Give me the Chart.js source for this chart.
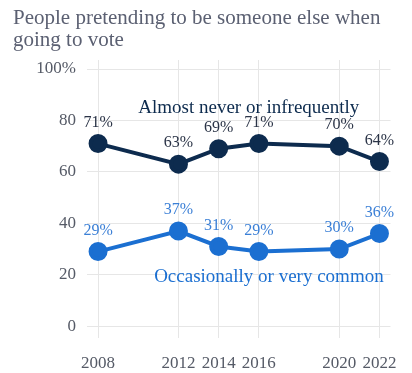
<!DOCTYPE html>
<html>
<head>
<meta charset="utf-8">
<script src="https://cdn.jsdelivr.net/npm/chart.js@4"></script>
<style>
  html, body { margin: 0; padding: 0; background: #fff; }
  #wrap { width: 412px; height: 373px; position: relative; }
</style>
</head>
<body>
<div id="wrap"><canvas id="voteChart"></canvas></div>
<script>
// Données du graphique
const years = [2008, 2012, 2014, 2016, 2020, 2022];
const rarely = [71, 63, 69, 71, 70, 64];
const often = [29, 37, 31, 29, 30, 36];
const yTicks = [0, 20, 40, 60, 80, 100];

const titleLines = ["People pretending to be someone else when", "going to vote"];
const rarelyLabel = "Almost never or infrequently";
const oftenLabel = "Occasionally or very common";

const FONT = "'Liberation Serif', 'DejaVu Serif', serif";
const NAVY = "#0d2b4e";
const BLUE = "#1b6fd1";

// Plugin maison : titre, étiquettes des points et noms des séries
const labelsPlugin = {
  id: "labelsPlugin",
  afterDatasetsDraw(chart) {
    const ctx = chart.ctx;
    const x = chart.scales.x;
    const y = chart.scales.y;
    ctx.save();

    // Titre
    ctx.fillStyle = "#5b6072";
    ctx.font = "21px " + FONT;
    ctx.textAlign = "left";
    ctx.textBaseline = "middle";
    ctx.fillText(titleLines[0], 13, 18);
    ctx.fillText(titleLines[1], 13, 40);

    // Valeurs au-dessus des points
    ctx.font = "16px " + FONT;
    ctx.textAlign = "center";
    chart.data.datasets.forEach((ds) => {
      ctx.fillStyle = ds.labelColor;
      ds.data.forEach((pt) => {
        ctx.fillText(pt.y + "%", x.getPixelForValue(pt.x), y.getPixelForValue(pt.y) - 21);
      });
    });

    // Noms des séries
    ctx.font = "19px " + FONT;
    ctx.fillStyle = NAVY;
    ctx.fillText(rarelyLabel, x.getPixelForValue(2015.5), y.getPixelForValue(85));
    ctx.fillStyle = BLUE;
    ctx.fillText(oftenLabel, x.getPixelForValue(2016.5), y.getPixelForValue(19));
    ctx.restore();
  },
};

document.addEventListener("DOMContentLoaded", () => {
  const ctx = document.getElementById("voteChart").getContext("2d");

  new Chart(ctx, {
    type: "line",
    data: {
      datasets: [
        {
          label: rarelyLabel,
          data: years.map((yr, i) => ({ x: yr, y: rarely[i] })),
          borderColor: NAVY,
          backgroundColor: NAVY,
          labelColor: "#2a3346",
          borderWidth: 4,
          pointRadius: 7.5,
          pointHoverRadius: 7.5,
        },
        {
          label: oftenLabel,
          data: years.map((yr, i) => ({ x: yr, y: often[i] })),
          borderColor: BLUE,
          backgroundColor: BLUE,
          labelColor: "#3a7fd6",
          borderWidth: 4,
          pointRadius: 7.5,
          pointHoverRadius: 7.5,
        },
      ],
    },
    options: {
      responsive: true,
      maintainAspectRatio: false,
      animation: false,
      layout: { padding: { top: 60, left: 0, right: 15, bottom: 0 } },
      plugins: {
        legend: { display: false },
        tooltip: { enabled: false },
      },
      scales: {
        x: {
          type: "linear",
          min: 2007.45,
          max: 2022.55,
          afterBuildTicks: (scale) => {
            scale.ticks = years.map((v) => ({ value: v }));
          },
          afterFit: (scale) => {
            scale.height = 35;
          },
          grid: { color: "#e6e6e6", drawTicks: false },
          border: { display: false },
          ticks: {
            padding: 15,
            color: "#555a66",
            font: { family: FONT, size: 17 },
            callback: (v) => String(v),
          },
        },
        y: {
          min: -4.6,
          max: 103.5,
          afterBuildTicks: (scale) => {
            scale.ticks = yTicks.map((v) => ({ value: v }));
          },
          afterFit: (scale) => {
            scale.width = 87;
          },
          grid: { color: "#e6e6e6", drawTicks: false },
          border: { display: false },
          ticks: {
            padding: 11,
            color: "#555a66",
            font: { family: FONT, size: 17 },
            callback: (v) => (v === 100 ? "100%" : String(v)),
          },
        },
      },
    },
    plugins: [labelsPlugin],
  });
});
</script>
</body>
</html>
